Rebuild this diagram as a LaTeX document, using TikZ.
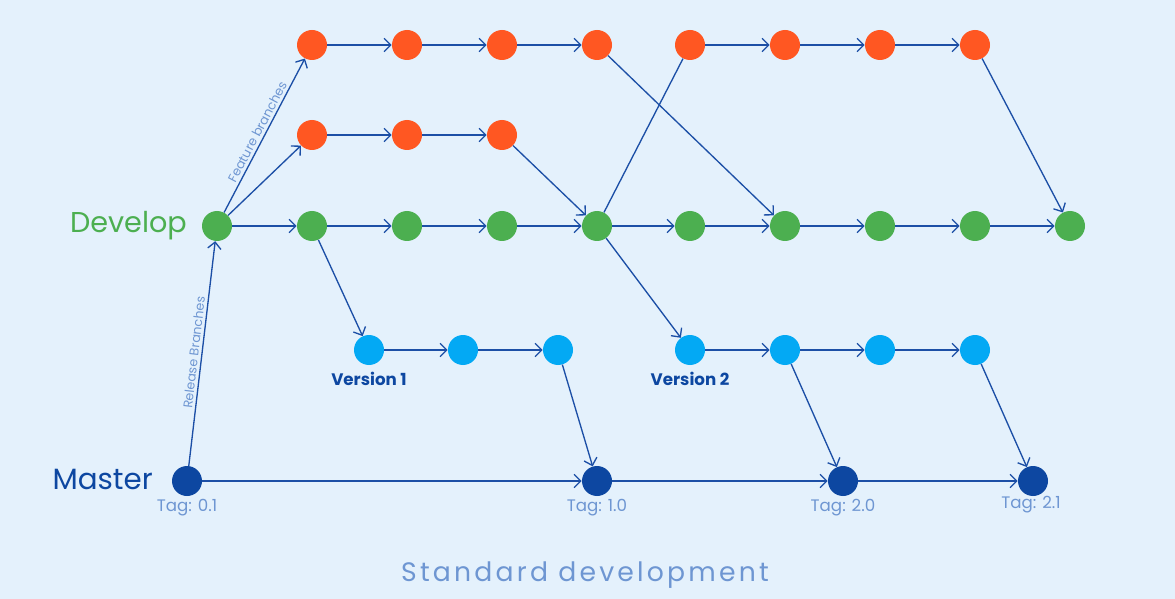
\documentclass[tikz,border=0pt]{standalone}
\usepackage{xcolor}
\usepackage{fontspec}
\setmainfont{Poppins}
\usepackage{tikz}
\usetikzlibrary{positioning,arrows.meta}

\definecolor{bgblue}{HTML}{E4F1FC}
\definecolor{devgreen}{HTML}{4CAF50}
\definecolor{featorange}{HTML}{FF5722}
\definecolor{relblue}{HTML}{03A9F4}
\definecolor{mastblue}{HTML}{0D47A1}
\definecolor{linkblue}{HTML}{1C4FA6}
\definecolor{tagblue}{HTML}{6E96D2}

\tikzset{
  commit/.style={circle, inner sep=0pt, minimum size=22.5pt},
  devc/.style={commit, fill=devgreen},
  featc/.style={commit, fill=featorange},
  relc/.style={commit, fill=relblue},
  mastc/.style={commit, fill=mastblue},
  link/.style={draw=linkblue, line width=1pt, -{Straight Barb[length=5pt,width=10pt]}},
  plainlink/.style={draw=linkblue, line width=1pt},
  tagtext/.style={text=tagblue, inner sep=1pt, font=\fontsize{12.5}{14}\selectfont},
  vername/.style={text=mastblue, inner sep=0pt, font=\bfseries\fontsize{12.5}{14}\selectfont},
  slopename/.style={text=tagblue, sloped, above, inner sep=2pt, font=\fontsize{9.5}{11}\selectfont},
}

\begin{document}
\begin{tikzpicture}[x=0.75pt, y=-0.75pt]
	\fill[bgblue] (0,0) rectangle (1175,599);
	\useasboundingbox (0,0) rectangle (1175,599);

	% develop
	\node[devc] (d0) at (217,226) {};
	\node[devc] (d1) at (312,226) {};
	\node[devc] (d2) at (407,226) {};
	\node[devc] (d3) at (502,226) {};
	\node[devc] (d4) at (597,226) {};
	\node[devc] (d5) at (690,226) {};
	\node[devc] (d6) at (785,226) {};
	\node[devc] (d7) at (880,226) {};
	\node[devc] (d8) at (975,226) {};
	\node[devc] (d9) at (1070,226) {};

	% features
	\node[featc] (fa1) at (312,45) {};
	\node[featc] (fa2) at (407,45) {};
	\node[featc] (fa3) at (502,45) {};
	\node[featc] (fa4) at (597,45) {};
	\node[featc] (fb1) at (312,135) {};
	\node[featc] (fb2) at (407,135) {};
	\node[featc] (fb3) at (502,135) {};
	\node[featc] (fc1) at (690,45) {};
	\node[featc] (fc2) at (785,45) {};
	\node[featc] (fc3) at (880,45) {};
	\node[featc] (fc4) at (975,45) {};

	% releases
	\node[relc] (ra1) at (369,350) {};
	\node[relc] (ra2) at (463,350) {};
	\node[relc] (ra3) at (558,350) {};
	\node[relc] (rb1) at (690,350) {};
	\node[relc] (rb2) at (785,350) {};
	\node[relc] (rb3) at (880,350) {};
	\node[relc] (rb4) at (975,350) {};

	% master
	\node[mastc] (m0) at (187,481) {};
	\node[mastc] (m1) at (597,481) {};
	\node[mastc] (m2) at (843,481) {};
	\node[mastc] (m3) at (1033,481) {};

	% names
	\node[text=devgreen, inner sep=0pt, font=\fontsize{21.5}{24}\selectfont, left=11pt of d0] (devname) {Develop};
	\node[text=mastblue, inner sep=0pt, font=\fontsize{22}{24}\selectfont, left=14pt of m0, yshift=1pt] (mastname) {Master};
	\node[vername, below=5pt of ra1] (v1name) {Version 1};
	\node[vername, below=5pt of rb1] (v2name) {Version 2};
	\node[tagtext, below=1pt of m0] (tag0) {Tag: 0.1};
	\node[tagtext, below=1pt of m1] (tag1) {Tag: 1.0};
	\node[tagtext, below=1pt of m2] (tag2) {Tag: 2.0};
	\node[tagtext, below=-1pt of m3, xshift=-1.5pt] (tag3) {Tag: 2.1};
	\node[text=tagblue, font=\addfontfeature{LetterSpace=12}\fontsize{20}{24}\selectfont] (title) at (585,575) {Standard development};

	% branching
	\draw[link] (m0) -- node[slopename] (relbr) {Release Branches} (d0);
	\draw[link] (d0) -- node[slopename] (featbr) {Feature branches} (fa1);
	\draw[link] (d0) -- (fb1);

	% develop line
	\draw[link] (d0) -- (d1);
	\draw[link] (d1) -- (d2);
	\draw[link] (d2) -- (d3);
	\draw[link] (d3) -- (d4);
	\draw[link] (d4) -- (d5);
	\draw[link] (d5) -- (d6);
	\draw[link] (d6) -- (d7);
	\draw[link] (d7) -- (d8);
	\draw[link] (d8) -- (d9);

	% feature lines
	\draw[link] (fa1) -- (fa2);
	\draw[link] (fa2) -- (fa3);
	\draw[link] (fa3) -- (fa4);
	\draw[link] (fa4) -- (d6);
	\draw[link] (fb1) -- (fb2);
	\draw[link] (fb2) -- (fb3);
	\draw[link] (fb3) -- (d4);
	\draw[plainlink] (d4) -- (fc1);
	\draw[link] (fc1) -- (fc2);
	\draw[link] (fc2) -- (fc3);
	\draw[link] (fc3) -- (fc4);
	\draw[link] (fc4) -- (d9);

	% release lines
	\draw[link] (d1) -- (ra1);
	\draw[link] (ra1) -- (ra2);
	\draw[link] (ra2) -- (ra3);
	\draw[link] (ra3) -- (m1);
	\draw[link] (d4) -- (rb1);
	\draw[link] (rb1) -- (rb2);
	\draw[link] (rb2) -- (rb3);
	\draw[link] (rb3) -- (rb4);
	\draw[link] (rb2) -- (m2);
	\draw[link] (rb4) -- (m3);

	% master line
	\draw[link] (m0) -- (m1);
	\draw[link] (m1) -- (m2);
	\draw[link] (m2) -- (m3);
\end{tikzpicture}
\end{document}
